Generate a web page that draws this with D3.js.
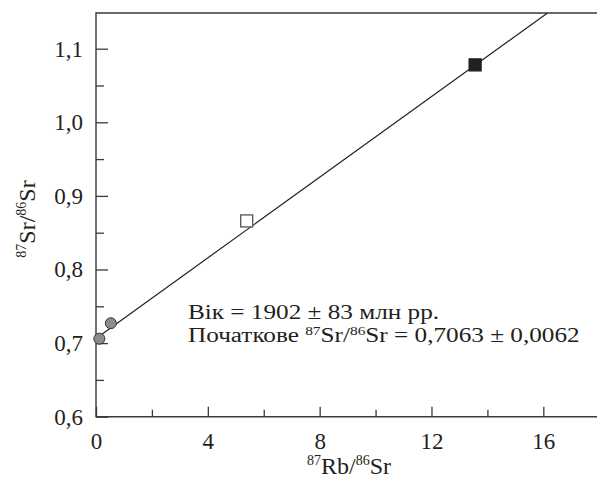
<!DOCTYPE html>
<html>
<head>
<meta charset="utf-8">
<script src="https://cdn.jsdelivr.net/npm/d3@7"></script>
<style>
  body { margin: 0; background: #fff; }
</style>
</head>
<body>
<svg id="chart" width="597" height="483"></svg>
<script>
// isochron data
const rbSr = [0.12, 0.53, 5.39, 13.56];
const srSr = [0.706, 0.727, 0.866, 1.078];
const markType = ["circle", "circle", "open", "filled"];

const xMajor = [0, 4, 8, 12, 16];
const xMinor = [2, 6, 10, 14];
const yMajor = [0.6, 0.7, 0.8, 0.9, 1.0, 1.1];
const yMinor = [0.65, 0.75, 0.85, 0.95, 1.05];

const intercept = 0.7063;
const slope = 0.02738;

const FONT = "'Liberation Serif', 'Times New Roman', Times, serif";
const ink = "#231f20";

const svg = d3.select("#chart").style("font-family", FONT);
const mLeft = 96, mTop = 13, mRight = 597, mBottom = 416.7;

const x = d3.scaleLinear().domain([0, 17.92]).range([mLeft, mRight]);
const y = d3.scaleLinear().domain([0.6, 1.1485]).range([mBottom, mTop]);

const axisColor = "#3a3a3a";
const fmt = d => d3.format(".1f")(d).replace(".", ",");

function styleLabels(g) {
    g.attr("font-family", null).attr("font-size", null);
    g.selectAll("text")
        .style("font-family", FONT)
        .style("font-size", "23px")
        .attr("fill", ink);
    g.select(".domain").remove();
}

// y axis
svg.append("g")
    .attr("transform", `translate(${mLeft},0)`)
    .call(d3.axisLeft(y).tickValues(yMajor).tickFormat(fmt).tickSizeInner(-12).tickSizeOuter(0).tickPadding(13))
    .call(styleLabels);

svg.append("g")
    .attr("transform", `translate(${mLeft},0)`)
    .call(d3.axisLeft(y).tickValues(yMinor).tickFormat("").tickSizeInner(-8).tickSizeOuter(0))
    .call(g => g.select(".domain").remove());

// x axis
svg.append("g")
    .attr("transform", `translate(0,${mBottom})`)
    .call(d3.axisBottom(x).tickValues(xMajor).tickFormat(d3.format("d")).tickSizeInner(-10).tickSizeOuter(0).tickPadding(16))
    .call(styleLabels);

svg.append("g")
    .attr("transform", `translate(0,${mBottom})`)
    .call(d3.axisBottom(x).tickValues(xMinor).tickFormat("").tickSizeInner(-7).tickSizeOuter(0))
    .call(g => g.select(".domain").remove());

svg.selectAll(".tick line").attr("stroke", axisColor).attr("stroke-width", 1.3);

// frame: left, bottom, top
svg.append("path")
    .attr("d", `M${mRight},${mTop}H${mLeft}V${mBottom}H${mRight}`)
    .attr("fill", "none")
    .attr("stroke", axisColor)
    .attr("stroke-width", 1.4);

// isochron line, clipped to plot area
svg.append("clipPath").attr("id", "plot-clip")
    .append("rect").attr("x", mLeft).attr("y", mTop).attr("width", mRight - mLeft).attr("height", mBottom - mTop);

const xEnd = (y.domain()[1] - intercept) / slope;
svg.append("line")
    .attr("clip-path", "url(#plot-clip)")
    .attr("x1", x(0.1)).attr("y1", y(intercept + slope * 0.1))
    .attr("x2", x(xEnd)).attr("y2", y(intercept + slope * xEnd))
    .attr("stroke", ink)
    .attr("stroke-width", 1.2);

// points
const pts = rbSr.map((v, i) => ({ x: v, y: srSr[i], t: markType[i] }));

svg.selectAll(".pt-circle")
    .data(pts.filter(d => d.t === "circle"))
    .join("circle")
    .attr("class", "pt-circle")
    .attr("cx", d => x(d.x))
    .attr("cy", d => y(d.y))
    .attr("r", 5.5)
    .attr("fill", "#8c8c8c")
    .attr("stroke", "#333")
    .attr("stroke-width", 1);

const sq = 12;
svg.selectAll(".pt-square")
    .data(pts.filter(d => d.t !== "circle"))
    .join("rect")
    .attr("class", "pt-square")
    .attr("x", d => x(d.x) - sq / 2)
    .attr("y", d => y(d.y) - sq / 2)
    .attr("width", sq)
    .attr("height", sq)
    .attr("fill", d => d.t === "filled" ? ink : "#fff")
    .attr("stroke", d => d.t === "filled" ? ink : "#555")
    .attr("stroke-width", 1.3);

// annotation (the source text is a little stretched sideways)
const ann = svg.append("g")
    .attr("transform", "translate(188,0) scale(1.23,1)")
    .style("font-size", "20.5px")
    .attr("fill", ink);
ann.append("text").attr("x", 0).attr("y", 319).text("Вік = 1902 ± 83 млн рр.");
const t2 = ann.append("text").attr("x", 0).attr("y", 342);
t2.append("tspan").text("Початкове ");
t2.append("tspan").attr("dy", -7).style("font-size", "12.5px").text("87");
t2.append("tspan").attr("dy", 7).text("Sr/");
t2.append("tspan").attr("dy", -7).style("font-size", "12.5px").text("86");
t2.append("tspan").attr("dy", 7).text("Sr = 0,7063 ± 0,0062");

// axis titles
const xt = svg.append("text")
    .attr("x", 349).attr("y", 474)
    .attr("text-anchor", "middle")
    .attr("fill", ink)
    .style("font-size", "24px");
xt.append("tspan").attr("dy", -9).style("font-size", "14px").text("87");
xt.append("tspan").attr("dy", 9).text("Rb/");
xt.append("tspan").attr("dy", -9).style("font-size", "14px").text("86");
xt.append("tspan").attr("dy", 9).text("Sr");

const yt = svg.append("text")
    .attr("transform", "translate(35,219) rotate(-90)")
    .attr("text-anchor", "middle")
    .attr("fill", ink)
    .style("font-size", "24px");
yt.append("tspan").attr("dy", -9).style("font-size", "14px").text("87");
yt.append("tspan").attr("dy", 9).text("Sr/");
yt.append("tspan").attr("dy", -9).style("font-size", "14px").text("86");
yt.append("tspan").attr("dy", 9).text("Sr");
</script>
</body>
</html>
